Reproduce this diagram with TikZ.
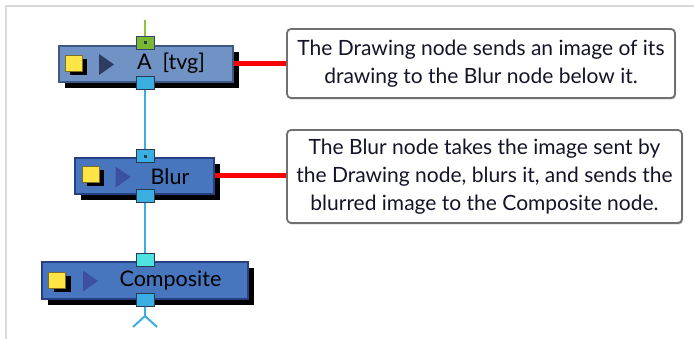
\documentclass[tikz,border=0pt]{standalone}
\usepackage{fontspec}
\setmainfont{Lato}
\usetikzlibrary{shadows,shapes.geometric}
\definecolor{frameline}{RGB}{217,217,217}
\definecolor{tvgfill}{RGB}{112,146,196}
\definecolor{tvgline}{RGB}{62,88,130}
\definecolor{nodefill}{RGB}{72,118,190}
\definecolor{nodeline}{RGB}{40,64,130}
\definecolor{portline}{RGB}{40,60,80}
\definecolor{portblue}{RGB}{58,174,224}
\definecolor{portgreen}{RGB}{122,184,52}
\definecolor{portcyan}{RGB}{78,226,226}
\definecolor{wiregreen}{RGB}{140,200,60}
\definecolor{flagyellow}{RGB}{255,228,70}
\definecolor{flagline}{RGB}{120,110,40}
\definecolor{tridark}{RGB}{45,60,95}
\definecolor{triblue}{RGB}{60,80,160}
\definecolor{noteline}{RGB}{112,112,112}
\definecolor{notetext}{RGB}{20,20,40}
\begin{document}
\begin{tikzpicture}[x=1pt,y=-1pt,
  nodebox/.style={draw,line width=1.5pt,minimum height=36pt,inner sep=0pt,
    drop shadow={shadow xshift=6pt,shadow yshift=-6pt,fill=black,opacity=1}},
  port/.style={draw=portline,line width=1pt,minimum width=18pt,minimum height=13pt,inner sep=0pt},
  portdot/.style={fill=portline,minimum size=3pt,inner sep=0pt},
  flag/.style={draw=flagline,line width=0.8pt,fill=flagyellow,minimum width=17pt,minimum height=16pt,inner sep=0pt,
    drop shadow={shadow xshift=5pt,shadow yshift=-4pt,fill=black,opacity=1}},
  play/.style={isosceles triangle,isosceles triangle apex angle=70,minimum height=15pt,inner sep=0pt},
  label/.style={font=\fontsize{21.5}{24}\selectfont,text=black},
  wire/.style={portblue,line width=2pt},
  callout/.style={red,line width=5pt},
  note/.style={draw=noteline,line width=1.8pt,rounded corners=4pt,fill=white,align=center,inner sep=0pt,
    text=notetext,font=\fontsize{21}{28}\selectfont,
    drop shadow={shadow xshift=1pt,shadow yshift=-1.5pt,fill=gray,opacity=0.5}}]
  \useasboundingbox (0,0) rectangle (694,339);
  \draw[frameline,line width=2pt] (6,339) -- (6,6) -- (694,6);

  % drawing node
  \node[nodebox,draw=tvgline,fill=tvgfill,minimum width=174pt] (tvg) at (146,64) {};
  \node[flag] (tvgflag) at (73.5,63) {};
  \node[play,fill=tridark] (tvgplay) at (104.5,64.5) {};
  \node[label] (tvglabel) at (171,63) {A\ \ [tvg]};
  \node[port,draw=tvgline!80!black,fill=portgreen] (tvgin) at (145,43) {};
  \node[portdot] at (tvgin) {};
  \node[port,fill=portblue] (tvgout) at (145,83) {};
  \coordinate (top) at (145,20);

  % blur node
  \node[nodebox,draw=nodeline,fill=nodefill,minimum width=139pt] (blur) at (144.5,176) {};
  \node[flag] (blurflag) at (90.5,174.5) {};
  \node[play,fill=triblue] (blurplay) at (121,177) {};
  \node[label] (blurlabel) at (170,177) {Blur};
  \node[port,fill=portblue] (blurin) at (145,156.5) {};
  \node[portdot] at (blurin) {};
  \node[port,fill=portblue] (blurout) at (145,196) {};

  % composite node
  \node[nodebox,draw=nodeline,fill=nodefill,minimum width=206pt,minimum height=37pt] (comp) at (145,280.5) {};
  \node[flag] (compflag) at (57,280) {};
  \node[play,fill=triblue] (compplay) at (88.5,281) {};
  \node[label] (complabel) at (170.5,281) {Composite};
  \node[port,fill=portcyan] (compin) at (145,260.5) {};
  \node[port,fill=portblue] (compout) at (145,300) {};
  \coordinate (split) at (145,316);
  \coordinate (splitl) at (133,327);
  \coordinate (splitr) at (157,327);

  % wires
  \draw[wiregreen,line width=2pt] (top) -- (tvgin.north);
  \draw[wire] (tvgout.south) -- (blurin.north);
  \draw[wire] (blurout.south) -- (compin.north);
  \draw[wire] (compout.south) -- (split) -- (splitl);
  \draw[wire] (split) -- (splitr);

  % notes
  \node[note,minimum width=388pt,minimum height=69pt] (note1) at (481,63.5)
    {The Drawing node sends an image of its\\drawing to the Blur node below it.};
  \node[note,minimum width=395pt,minimum height=93pt] (note2) at (484.5,176.5)
    {The Blur node takes the image sent by\\the Drawing node, blurs it, and sends the\\blurred image to the Composite node.};
  \draw[callout] (tvg.east) -- (tvg.east -| note1.west);
  \draw[callout] (blur.east) -- (blur.east -| note2.west);
\end{tikzpicture}
\end{document}
